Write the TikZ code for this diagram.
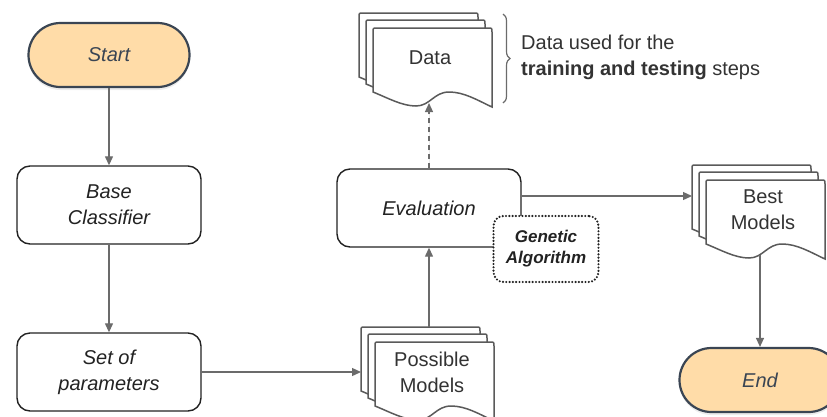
\documentclass[tikz,border=0pt]{standalone}
\usepackage{fontspec}
\setmainfont{Liberation Sans}
\usetikzlibrary{arrows.meta,shadows,decorations.pathreplacing}

\definecolor{startfill}{HTML}{FFDCA8}
\definecolor{termline}{HTML}{3A4553}
\definecolor{wire}{HTML}{6B6B6B}
\definecolor{ink}{HTML}{222222}
\definecolor{pageline}{HTML}{5A5A5A}
\definecolor{notetext}{HTML}{333333}

\newcommand\diagsize{\fontsize{20}{26}\selectfont}

\tikzset{
  terminal/.style={rectangle, rounded corners=32pt, minimum width=161pt,
    minimum height=64pt, fill=startfill, draw=termline, line width=2.2pt,
    text=termline, font=\diagsize\itshape,
    drop shadow={opacity=0.15, shadow xshift=0pt, shadow yshift=-3pt}},
  process/.style={rectangle, rounded corners=13pt, draw=ink, line width=1.4pt,
    minimum width=184pt, minimum height=78pt, align=center,
    font=\diagsize\itshape, text=ink, fill=white},
  gabox/.style={rectangle, rounded corners=10pt, draw=ink, line width=2.4pt,
    dash pattern=on 0pt off 3.3pt, line cap=round, fill=white,
    minimum width=105pt, minimum height=66pt, align=center,
    font=\fontsize{17}{21}\selectfont\bfseries\itshape, text=ink},
  docpage/.style={draw=pageline, line width=1.5pt, fill=white},
  doclabel/.style={align=center, font=\diagsize, text=notetext, inner sep=0pt},
  arrow/.style={draw=wire, line width=1.3pt,
    -{Triangle[length=9pt,width=8pt]}, fill=wire},
  pics/docstack/.style={code={
    \foreach \dx/\dy in {0/0,7/7,14/15}{
      \path[docpage] (\dx,\dy+64) -- (\dx,\dy+4)
        .. controls (\dx,\dy) .. (\dx+4,\dy) -- (\dx+115,\dy)
        .. controls (\dx+119,\dy) .. (\dx+119,\dy+4) -- (\dx+119,\dy+79)
        .. controls (\dx+104,\dy+72) and (\dx+91,\dy+64) .. (\dx+76,\dy+64)
        .. controls (\dx+61,\dy+64) and (\dx+57,\dy+78) .. (\dx+43,\dy+78)
        .. controls (\dx+29,\dy+78) and (\dx+15,\dy+70) .. (\dx,\dy+64) -- cycle;
    }
    \node[inner sep=0pt, minimum width=133pt, minimum height=94pt,
      anchor=north west] (-box) at (0,0) {};
    \coordinate (-wave) at (68,90);
    \node[doclabel] (-label) at (71,45) {#1};
  }}
}

\begin{document}
\begin{tikzpicture}[x=1pt, y=-1pt]
  \useasboundingbox (0,0) rectangle (827,416);
  \clip (0,0) rectangle (827,416);

  % terminals and process steps
  \node[terminal] (start) at (109,55) {Start};
  \node[process] (base) at (109,205) {Base\\Classifier};
  \node[process] (params) at (109,372) {Set of\\parameters};
  \node[process] (eval) at (429,208) {Evaluation};
  \node[terminal] (end) at (760,380) {End};

  % document stacks
  \pic (data) at (359,13) {docstack={Data}};
  \pic (best) at (692,165) {docstack={Best\\Models}};
  \pic (poss) at (361,327) {docstack={Possible\\Models}};

  % connectors
  \draw[arrow] (start.south) -- (base.north);
  \draw[arrow] (base.south) -- (params.north);
  \draw[arrow] (params.east) -- (params.east -| poss-box.west);
  \draw[arrow] (eval.south |- poss-box.north) -- (eval.south);
  \draw[arrow, dash pattern=on 5pt off 4pt] (eval.north) -- (eval.north |- data-wave);
  \draw[arrow] ([yshift=12pt]eval.east) -- ([yshift=12pt]eval.east -| best-box.west);
  \draw[arrow] (best-wave) -- (best-wave |- end.north);

  % genetic algorithm tag over the evaluation box
  \node[gabox] (ga) at (546,249) {Genetic\\Algorithm};

  % brace and note about the data
  \draw[draw=wire, line width=1.2pt, decorate,
    decoration={brace, amplitude=7pt}] (503,14) -- (503,103);
  \node[anchor=west, align=left, inner sep=0pt, font=\diagsize, text=notetext]
    (note) at (521,57) {Data used for the\\\textbf{training and testing} steps};
\end{tikzpicture}
\end{document}
